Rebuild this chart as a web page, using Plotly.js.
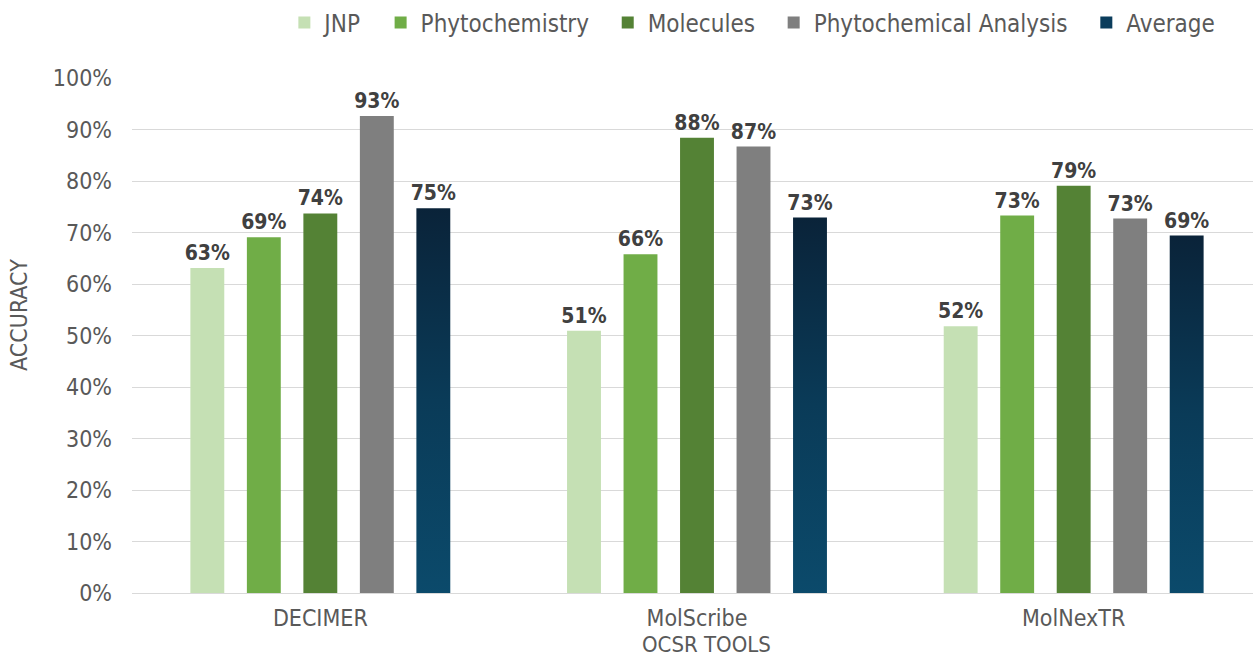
<!DOCTYPE html>
<html>
<head>
<meta charset="utf-8">
<script src="https://cdn.plot.ly/plotly-3.0.1.min.js"></script>
<style>html,body{margin:0;padding:0;background:#fff;overflow:hidden;}#chart{width:1253px;height:658px;overflow:hidden;}</style>
</head>
<body>
<div id="chart"></div>
<script>
const tools = ["DECIMER", "MolScribe", "MolNexTR"];
const jnp = [0.631, 0.509, 0.518];
const phytochemistry = [0.691, 0.658, 0.733];
const molecules = [0.737, 0.884, 0.791];
const phytochemicalAnalysis = [0.926, 0.867, 0.727];
const average = [0.747, 0.729, 0.694];

const seriesNames = ["JNP", "Phytochemistry", "Molecules", "Phytochemical Analysis", "Average"];
const seriesValues = [jnp, phytochemistry, molecules, phytochemicalAnalysis, average];
const seriesColors = ["#c5e0b4", "#70ad47", "#548235", "#7f7f7f", "#0b3d5c"];

const fontFam = "'Liberation Sans Narrow', 'DejaVu Sans Condensed', 'Roboto', sans-serif";
const pad = "\u00a0\u00a0";

const traces = seriesNames.map((n, i) => ({
  type: "bar",
  name: i < seriesNames.length - 1 ? n + pad : n,
  x: tools,
  y: seriesValues[i],
  marker: {color: seriesColors[i]},
  texttemplate: "%{y:.0%}",
  textposition: "outside",
  constraintext: "none",
  cliponaxis: false,
  textfont: {family: fontFam, size: 21, color: "#404040", weight: "bold"},
  hovertemplate: n + ": %{y:.1%}<extra></extra>"
}));

const layout = {
  width: 1262, height: 658,
  margin: {l: 132, r: 0, t: 76, b: 65},
  paper_bgcolor: "#fff", plot_bgcolor: "#fff",
  barmode: "group",
  bargap: 0.25,
  bargroupgap: 0.4,
  font: {family: fontFam, color: "#595959", size: 23},
  showlegend: true,
  legend: {orientation: "h", x: 0.549, xanchor: "center", y: 1.107, yanchor: "middle",
           font: {family: fontFam, size: 24, color: "#595959"}, itemwidth: 30, traceorder: "normal"},
  xaxis: {
    tickfont: {family: fontFam, size: 23, color: "#595959"},
    showgrid: false, showline: false, ticks: "", zeroline: false, ticklabelstandoff: 9
  },
  yaxis: {
    range: [0, 1], dtick: 0.1, tickformat: ".0%",
    tickfont: {family: fontFam, size: 23, color: "#595959"},
    gridcolor: "#d9d9d9", gridwidth: 1, zeroline: true, zerolinecolor: "#d9d9d9", zerolinewidth: 1,
    showline: false, ticks: "", ticklabelstandoff: 19, automargin: false
  },
  annotations: [
    {text: "ACCURACY", xref: "paper", yref: "paper", x: -0.1, y: 0.54, xanchor: "center", yanchor: "middle",
     textangle: -90, showarrow: false, font: {family: fontFam, size: 23, color: "#595959"}},
    {text: "OCSR TOOLS", xref: "paper", yref: "paper", x: 0.508, y: -0.1, xanchor: "center", yanchor: "middle",
     showarrow: false, borderpad: 0, font: {family: fontFam, size: 22, color: "#595959"}}
  ]
};

Plotly.newPlot("chart", traces, layout, {displayModeBar: false}).then(gd => {
  const svg = gd.querySelector("svg.main-svg");
  const ns = "http://www.w3.org/2000/svg";
  let defs = svg.querySelector("defs");
  if (!defs) { defs = document.createElementNS(ns, "defs"); svg.insertBefore(defs, svg.firstChild); }
  const grad = document.createElementNS(ns, "linearGradient");
  grad.setAttribute("id", "avgGrad");
  grad.setAttribute("x1", "0"); grad.setAttribute("y1", "0");
  grad.setAttribute("x2", "0"); grad.setAttribute("y2", "1");
  [["0", "#0a2339"], ["0.5", "#0a3b58"], ["1", "#0b4a6b"]].forEach(([o, c]) => {
    const s = document.createElementNS(ns, "stop");
    s.setAttribute("offset", o); s.setAttribute("stop-color", c);
    grad.appendChild(s);
  });
  defs.appendChild(grad);
  const barTraces = gd.querySelectorAll(".barlayer .trace");
  const last = barTraces[barTraces.length - 1];
  if (last) last.querySelectorAll("path").forEach(p => { p.style.fill = "url(#avgGrad)"; });
});
</script>
</body>
</html>
